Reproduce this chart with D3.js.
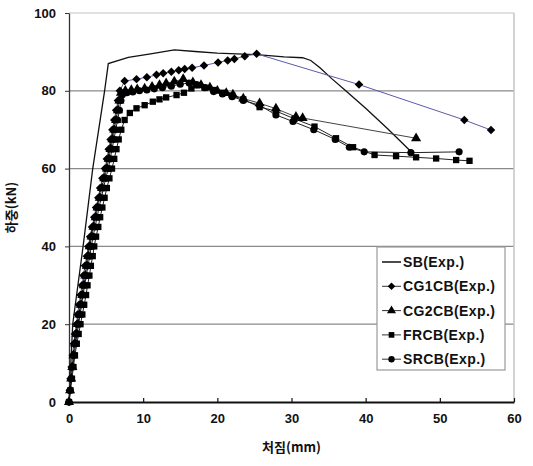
<!DOCTYPE html>
<html>
<head>
<meta charset="utf-8">
<script src="https://cdn.jsdelivr.net/npm/d3@7"></script>
<style>
  html, body { margin: 0; padding: 0; background: #fff; }
  svg { display: block; }
  text { font-family: "Liberation Sans", Arial, "Noto Sans CJK KR", sans-serif; font-weight: bold; fill: #111; }
  .kr { font-family: "Noto Sans CJK KR", sans-serif; }
</style>
</head>
<body>
<svg id="chart" width="533" height="466"></svg>
<script>
// Load–deflection curves of five beam specimens (deflection in mm, load in kN)
const seriesNames = ["SB(Exp.)", "CG1CB(Exp.)", "CG2CB(Exp.)", "FRCB(Exp.)", "SRCB(Exp.)"];

const xTicks = [0, 10, 20, 30, 40, 50, 60];
const yTicks = [0, 20, 40, 60, 80, 100];

const sbData = [
  [0, 0], [0.5, 20], [1.9, 40], [3.2, 60], [4.8, 80], [5.3, 87], [8, 88.6], [11, 89.5],
  [14.2, 90.5], [17, 90.1], [20, 89.7], [25.3, 89.3], [29, 88.7], [31.5, 88.5], [32.6, 87.8],
  [33.8, 86], [35.5, 83], [37.2, 80.2], [40, 75.5], [43, 70.2], [46.2, 64.2]
];

const cg1cbData = [
  [0, 0], [0.1, 3], [0.2, 6], [0.35, 9], [0.5, 12], [0.65, 15], [0.8, 17.5], [1.0, 20],
  [1.15, 22.5], [1.35, 25], [1.55, 27.5], [1.75, 30], [1.95, 32.5], [2.15, 35], [2.4, 37.5],
  [2.6, 40], [2.85, 42.5], [3.1, 45], [3.4, 47.5], [3.65, 50], [3.95, 52.5], [4.2, 55],
  [4.5, 57.5], [4.85, 60], [5.1, 62.5], [5.35, 65], [5.6, 67.5], [5.85, 70], [6.1, 72.5],
  [6.35, 75], [6.6, 77.5], [6.85, 80], [7.5, 82.5], [9.1, 83], [10.5, 83.5], [11.8, 84.1],
  [12.7, 84.5], [13.8, 84.9], [14.8, 85.3], [15.6, 85.6], [16.6, 85.9], [18.2, 86.5],
  [20.1, 87.3], [21.4, 87.8], [22.3, 88.2], [23.7, 88.9], [25.3, 89.5], [39.1, 81.6],
  [53.3, 72.5], [56.9, 69.9]
];

const cg2cbData = [
  [0, 0], [0.15, 3], [0.3, 6], [0.45, 9], [0.6, 12], [0.8, 15], [1.0, 17.5], [1.2, 20],
  [1.4, 22.5], [1.6, 25], [1.8, 27.5], [2.0, 30], [2.2, 32.5], [2.4, 35], [2.6, 37.5],
  [2.8, 40], [3.05, 42.5], [3.3, 45], [3.6, 47.5], [3.85, 50], [4.15, 52.5], [4.45, 55],
  [4.75, 57.5], [5.1, 60], [5.35, 62.5], [5.6, 65], [5.85, 67.5], [6.1, 70], [6.35, 72.5],
  [6.6, 75], [6.8, 77.5], [7.0, 79.5], [7.6, 80], [8.4, 80.2], [9.2, 80.4], [10.2, 80.6],
  [11.2, 81], [12.2, 81.5], [13.1, 81.9], [14.2, 82.4], [15.4, 83], [16.7, 82.2],
  [17.8, 81.5], [19, 80.8], [20, 80], [21.2, 79.4], [22.1, 79], [23.5, 78], [25.7, 76.8],
  [27.9, 75.4], [30.6, 73.3], [31.5, 73], [46.8, 67.8]
];

const frcbData = [
  [0, 0], [0.2, 3], [0.4, 6], [0.6, 9], [0.8, 12], [1.05, 15], [1.3, 17.5], [1.55, 20],
  [1.8, 22.5], [2.05, 25], [2.3, 27.5], [2.5, 30], [2.75, 32.5], [2.95, 35], [3.2, 37.5],
  [3.4, 40], [3.65, 42.5], [3.95, 45], [4.2, 47.5], [4.5, 50], [4.8, 52.5], [5.1, 55],
  [5.45, 57.5], [5.8, 60], [6.1, 62.5], [6.4, 65], [6.7, 67.5], [7.05, 70], [7.5, 72.5],
  [8.2, 74.3], [9.1, 75.5], [10.2, 76.3], [11.3, 77.2], [12.2, 77.8], [13.1, 78.3],
  [14.5, 78.9], [15.5, 79.5], [16.5, 80.6], [17.3, 81.4], [18.3, 80.8], [19.5, 80.2],
  [20.7, 79.5], [22, 78.8], [23.5, 77.8], [25.7, 75.8], [27.9, 74.8], [30.4, 72.8],
  [33.1, 70.8], [36, 67.8], [38.3, 65.5], [41.2, 63.5], [44.1, 63.2], [46.8, 62.9],
  [49.5, 62.6], [52.2, 62.2], [54, 62]
];

const srcbData = [
  [0, 0], [0.15, 3], [0.3, 6], [0.5, 9], [0.7, 12], [0.9, 15], [1.1, 17.5], [1.3, 20],
  [1.5, 22.5], [1.7, 25], [1.9, 27.5], [2.1, 30], [2.35, 32.5], [2.55, 35], [2.8, 37.5],
  [3.0, 40], [3.25, 42.5], [3.5, 45], [3.8, 47.5], [4.05, 50], [4.35, 52.5], [4.65, 55],
  [4.95, 57.5], [5.3, 60], [5.55, 62.5], [5.8, 65], [6.05, 67.5], [6.3, 70], [6.55, 72.5],
  [6.8, 75], [7.0, 77.5], [7.2, 79], [7.8, 79.5], [8.6, 79.7], [9.5, 80], [10.5, 80.2],
  [11.5, 80.5], [12.6, 80.8], [13.8, 81.2], [15, 81.7], [16.2, 82], [17.2, 81.6],
  [18.3, 80.8], [19.5, 79.8], [20.7, 79.2], [22, 78.5], [23.5, 77.5], [25.7, 76.3],
  [27.9, 73.8], [30.2, 72.1], [33, 70], [35.9, 67.5], [37.8, 65.5], [39.8, 64.3],
  [46.1, 64.1], [52.6, 64.3]
];

const seriesData = [sbData, cg1cbData, cg2cbData, frcbData, srcbData];
const seriesLine = ["#111", "#5b5ba8", "#444", "#222", "#222"];
const seriesLineWidth = [1.3, 1, 1, 1, 1];
// diamonds are squares turned by 45 degrees
const seriesSymbol = [null, d3.symbolSquare, d3.symbolTriangle, d3.symbolSquare, d3.symbolCircle];
const seriesSymbolSize = [0, 36, 44, 40, 40];
const seriesSymbolAngle = [0, 45, 0, 0, 0];

const svg = d3.select("#chart");
const plotLeft = 69, plotRight = 514, plotTop = 13, plotBottom = 402;

const x = d3.scaleLinear().domain([0, 60]).range([plotLeft, plotRight]);
const y = d3.scaleLinear().domain([0, 100]).range([plotBottom, plotTop]);

// horizontal gridlines
svg.append("g").selectAll("line")
  .data(yTicks.filter(v => v > 0))
  .join("line")
  .attr("x1", plotLeft).attr("x2", plotRight)
  .attr("y1", d => y(d)).attr("y2", d => y(d))
  .attr("stroke", d => d === 100 ? "#c4c4c4" : "#8a8a8a")
  .attr("stroke-width", 1.2);

// right border of the plot area
svg.append("line")
  .attr("x1", plotRight).attr("x2", plotRight).attr("y1", plotTop).attr("y2", plotBottom)
  .attr("stroke", "#c4c4c4").attr("stroke-width", 1.5);

// axes
const xAxis = d3.axisBottom(x).tickValues(xTicks).tickSizeInner(-4).tickSizeOuter(0).tickPadding(12);
const gx = svg.append("g").attr("transform", `translate(0,${plotBottom})`).call(xAxis);
gx.select(".domain").attr("stroke", "#111").attr("stroke-width", 2);
gx.selectAll(".tick line").attr("stroke", "#111").attr("stroke-width", 1.2);
gx.selectAll(".tick text").attr("font-size", 13).attr("font-weight", "bold")
  .attr("font-family", "Liberation Sans, Arial, sans-serif").attr("fill", "#111");

const yAxis = d3.axisLeft(y).tickValues(yTicks).tickSizeInner(4).tickSizeOuter(0).tickPadding(9);
const gy = svg.append("g").attr("transform", `translate(${plotLeft},0)`).call(yAxis);
gy.select(".domain").attr("stroke", "#333").attr("stroke-width", 1.3);
gy.selectAll(".tick line").attr("stroke", "#333");
gy.selectAll(".tick text").attr("font-size", 13).attr("font-weight", "bold")
  .attr("font-family", "Liberation Sans, Arial, sans-serif").attr("fill", "#111");

// axis titles
svg.append("text").attr("class", "kr")
  .attr("x", (plotLeft + plotRight) / 2).attr("y", 452)
  .attr("text-anchor", "middle").attr("font-size", 13)
  .text("처짐(mm)");

svg.append("text").attr("class", "kr")
  .attr("transform", `translate(16,${(plotTop + plotBottom) / 2}) rotate(-90)`)
  .attr("text-anchor", "middle").attr("font-size", 13)
  .text("하중(kN)");

// curves and markers
const line = d3.line().x(d => x(d[0])).y(d => y(d[1]));
const plot = svg.append("g");

seriesData.forEach((data, i) => {
  plot.append("path")
    .datum(data)
    .attr("d", line)
    .attr("fill", "none")
    .attr("stroke", seriesLine[i])
    .attr("stroke-width", seriesLineWidth[i]);
});

// draw markers (reverse order so CG1CB sits on top)
[4, 3, 2, 1].forEach(i => {
  const sym = d3.symbol().type(seriesSymbol[i]).size(seriesSymbolSize[i]);
  plot.append("g").selectAll("path")
    .data(seriesData[i])
    .join("path")
    .attr("transform", d => `translate(${x(d[0])},${y(d[1])}) rotate(${seriesSymbolAngle[i]})`)
    .attr("d", sym)
    .attr("fill", "#000");
});

// legend
const lg = svg.append("g").attr("transform", "translate(377,247)");
lg.append("rect").attr("width", 128).attr("height", 123)
  .attr("fill", "#fff").attr("stroke", "#9a9a9a").attr("stroke-width", 1.2);

seriesNames.forEach((name, i) => {
  const row = lg.append("g").attr("transform", `translate(0,${15 + i * 24.3})`);
  row.append("line").attr("x1", 5).attr("x2", 24).attr("y1", 0).attr("y2", 0)
    .attr("stroke", i === 0 ? "#111" : "#333").attr("stroke-width", i === 0 ? 1.5 : 1);
  if (seriesSymbol[i]) {
    row.append("path").attr("transform", `translate(14.5,0) rotate(${seriesSymbolAngle[i]})`)
      .attr("d", d3.symbol().type(seriesSymbol[i]).size(seriesSymbolSize[i] * 0.8)())
      .attr("fill", "#000");
  }
  row.append("text").attr("x", 26).attr("y", 5)
    .attr("font-size", 14).attr("letter-spacing", 0.4)
    .text(name);
});
</script>
</body>
</html>
